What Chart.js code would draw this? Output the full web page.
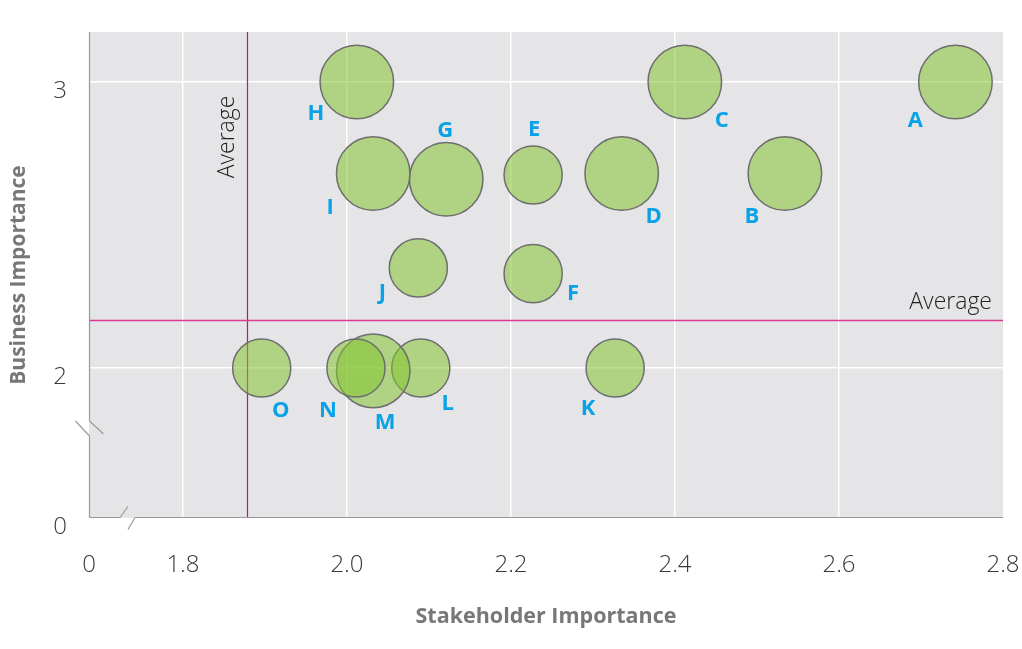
<!DOCTYPE html>
<html>
<head>
<meta charset="utf-8">
<script src="https://cdn.jsdelivr.net/npm/chart.js@4/dist/chart.umd.min.js"></script>
<style>
  html, body { margin: 0; padding: 0; background: #fff; }
  #wrap { width: 1022px; height: 649px; }
</style>
</head>
<body>
<div id="wrap"><canvas id="bubbleChart" width="1022" height="649"></canvas></div>
<script>
// Data
const names = ['A', 'B', 'C', 'D', 'E', 'F', 'G', 'H', 'I', 'J', 'K', 'L', 'M', 'N', 'O'];
const stakeholder = [2.742, 2.534, 2.412, 2.335, 2.227, 2.227, 2.121, 2.012, 2.032, 2.087, 2.327, 2.090, 2.032, 2.011, 1.896];
const business = [3.0, 2.68, 3.0, 2.68, 2.675, 2.33, 2.66, 3.0, 2.68, 2.35, 2.0, 2.0, 1.99, 2.0, 2.0];
const weight = [8, 8, 8, 8, 5, 5, 8, 8, 8, 5, 5, 5, 8, 5, 5];

const xTickValues = [1.8, 2.0, 2.2, 2.4, 2.6, 2.8];
const yTickValues = [2, 3];
const breakLabel = '0';
const avgStakeholder = 1.878;
const avgBusiness = 2.168;

// axis ranges (the "0" sits at the start of each broken axis)
const xMin = 1.6854, xMax = 2.8;
const yMin = 1.4755, yMax = 3.175;

// label placement around each bubble (px)
const labelOffsets = [
  [-40, 39], [-33, 43], [37, 39], [32, 43], [1, -45], [40, 20], [-1, -49],
  [-41, 32], [-43, 34], [-36, 25], [-27, 41], [27, 36], [12, 52], [-28, 43], [19, 43]
];

const points = names.map((n, i) => ({
  x: stakeholder[i],
  y: business[i],
  r: Math.sqrt(weight[i]) * 13
}));

const FONT = '"Open Sans", "DejaVu Sans", sans-serif';

const decor = {
  id: 'decor',
  beforeDraw(chart) {
    const { ctx, chartArea: a } = chart;
    ctx.save();
    ctx.fillStyle = '#e5e5e7';
    ctx.fillRect(a.left, a.top, a.right - a.left, a.bottom - a.top);
    ctx.restore();
  },
  beforeDatasetsDraw(chart) {
    const { ctx, chartArea: a, scales } = chart;
    const ax = Math.round(scales.x.getPixelForValue(avgStakeholder)) + 0.5;
    const ay = Math.round(scales.y.getPixelForValue(avgBusiness)) + 0.5;
    ctx.save();
    // average lines
    ctx.lineWidth = 1.2;
    ctx.strokeStyle = '#b81870';
    ctx.beginPath();
    ctx.moveTo(ax, a.top); ctx.lineTo(ax, a.bottom);
    ctx.stroke();
    ctx.lineWidth = 1.5;
    ctx.strokeStyle = '#d83a8e';
    ctx.beginPath();
    ctx.moveTo(a.left, ay); ctx.lineTo(a.right, ay);
    ctx.stroke();

    ctx.fillStyle = '#222';
    ctx.font = '300 23px ' + FONT;
    ctx.textAlign = 'right';
    ctx.textBaseline = 'alphabetic';
    ctx.fillText('Average', a.right - 11, ay - 12);
    ctx.save();
    ctx.translate(ax - 14, a.top + 105);
    ctx.rotate(-Math.PI / 2);
    ctx.textAlign = 'center';
    ctx.fillText('Average', 0, 0);
    ctx.restore();

    // axis lines with break marks
    ctx.strokeStyle = '#9a9a9a';
    ctx.lineWidth = 1.2;
    const L = a.left + 0.5, B = a.bottom - 0.5;
    const by = a.bottom - 97, bx = a.left + 31;
    ctx.beginPath();
    ctx.moveTo(L, a.top); ctx.lineTo(L, by);
    ctx.moveTo(L, by + 15); ctx.lineTo(L, B);
    ctx.moveTo(L - 14, by); ctx.lineTo(L, by + 15);
    ctx.moveTo(L, by); ctx.lineTo(L + 14, by + 13);
    ctx.moveTo(L, B); ctx.lineTo(bx, B);
    ctx.moveTo(bx + 15, B); ctx.lineTo(a.right, B);
    ctx.moveTo(bx, B); ctx.lineTo(bx + 8, B - 11);
    ctx.moveTo(bx + 8, B + 12); ctx.lineTo(bx + 15, B);
    ctx.stroke();
    ctx.restore();
  },
  afterDatasetsDraw(chart) {
    const { ctx } = chart;
    const meta = chart.getDatasetMeta(0);
    ctx.save();
    ctx.fillStyle = '#0aa2e6';
    ctx.font = 'bold 22px ' + FONT;
    ctx.textAlign = 'center';
    ctx.textBaseline = 'middle';
    meta.data.forEach((el, i) => {
      const [dx, dy] = labelOffsets[i];
      ctx.fillText(names[i], el.x + dx, el.y + dy);
    });
    ctx.restore();
  }
};

const ctx = document.getElementById('bubbleChart').getContext('2d');
new Chart(ctx, {
  type: 'bubble',
  data: {
    datasets: [{
      data: points,
      clip: false,
      backgroundColor: 'rgba(131, 195, 46, 0.54)',
      borderColor: '#6e6e6e',
      borderWidth: 1.5,
      hoverBorderWidth: 1.5
    }]
  },
  options: {
    responsive: false,
    animation: false,
    events: [],
    layout: { autoPadding: false, padding: { top: 32, right: 19, left: 0, bottom: 0 } },
    plugins: { legend: { display: false }, tooltip: { enabled: false } },
    scales: {
      x: {
        type: 'linear',
        min: xMin,
        max: xMax,
        afterBuildTicks: s => { s.ticks = [xMin, ...xTickValues].map(v => ({ value: v })); },
        afterFit: s => { s.height = 131; s.paddingLeft = 0; s.paddingRight = 0; },
        border: { display: false },
        grid: {
          drawTicks: false,
          lineWidth: 1.5,
          color: c => (c.tick && (c.tick.value === xMin || c.tick.value === xMax)) ? 'rgba(0,0,0,0)' : '#ffffff'
        },
        ticks: {
          padding: 33,
          color: '#3a3a3a',
          font: { family: FONT, size: 24, weight: '300' },
          callback: v => v === xMin ? breakLabel : v.toFixed(1)
        },
        title: {
          display: true,
          text: 'Stakeholder Importance',
          color: '#777',
          font: { family: FONT, size: 21.5, weight: 'bold' },
          padding: { top: 0, bottom: 19 }
        }
      },
      y: {
        type: 'linear',
        min: yMin,
        max: yMax,
        afterBuildTicks: s => { s.ticks = [yMin, ...yTickValues].map(v => ({ value: v })); },
        afterFit: s => { s.width = 89; s.paddingTop = 0; s.paddingBottom = 0; },
        border: { display: false },
        grid: {
          drawTicks: false,
          lineWidth: 1.5,
          color: c => (c.tick && c.tick.value === yMin) ? 'rgba(0,0,0,0)' : '#ffffff'
        },
        ticks: {
          padding: 22,
          labelOffset: 9,
          color: '#3a3a3a',
          font: { family: FONT, size: 24, weight: '300' },
          callback: v => v === yMin ? breakLabel : String(v)
        },
        title: {
          display: true,
          text: 'Business Importance',
          color: '#777',
          font: { family: FONT, size: 21, weight: 'bold' },
          padding: { top: 6, bottom: 0 }
        }
      }
    }
  },
  plugins: [decor]
});
</script>
</body>
</html>
